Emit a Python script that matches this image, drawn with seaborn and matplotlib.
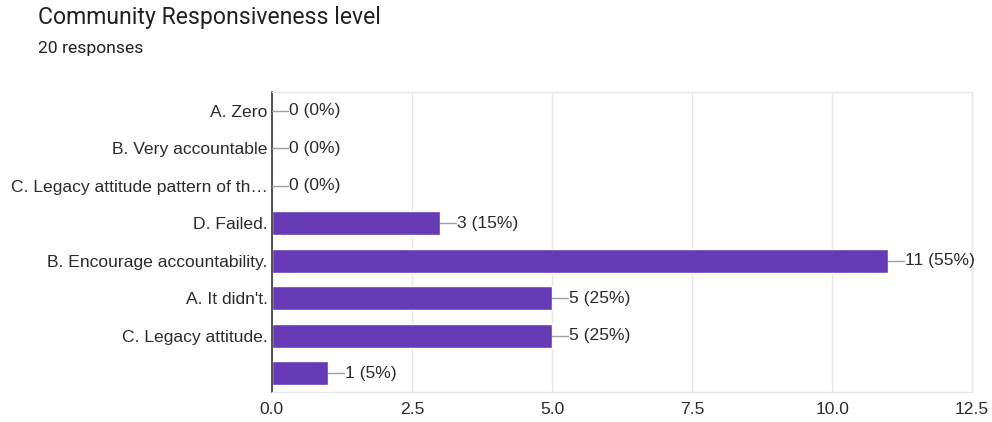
import matplotlib
matplotlib.use("Agg")
import matplotlib.pyplot as plt
import seaborn as sns
import pandas as pd

categories = ["A. Zero", "B. Very accountable", "C. Legacy attitude pattern of th\u2026",
              "D. Failed.", "B. Encourage accountability.", "A. It didn't.",
              "C. Legacy attitude.", " "]
counts = [0, 0, 0, 3, 11, 5, 5, 1]
total = 20
xticks = [0.0, 2.5, 5.0, 7.5, 10.0, 12.5]

df = pd.DataFrame({"cat": categories, "n": counts})

sns.set_theme(style="white")
plt.rcParams["font.family"] = ["Liberation Sans", "DejaVu Sans"]

fig = plt.figure(figsize=(9.92, 4.22), dpi=100)
ax = fig.add_axes([0.274, 0.071, 0.706, 0.711])

sns.barplot(data=df, x="n", y="cat", color="#673ab7", width=0.64,
            saturation=1, ax=ax, orient="h")

ax.set_xlim(0, 12.5)
ax.set_xticks(xticks)
ax.set_xticklabels([f"{t:.1f}" for t in xticks])
ax.set_ylim(len(categories) - 0.5, -0.5)
ax.set_xlabel("")
ax.set_ylabel("")
ax.grid(axis="x", color="#e6e6e6", linewidth=1)
ax.set_axisbelow(True)
for s in ["top", "right", "bottom"]:
    ax.spines[s].set_color("#e6e6e6")
    ax.spines[s].set_linewidth(1)
ax.spines["left"].set_color("#333333")
ax.spines["left"].set_linewidth(1.2)
ax.tick_params(axis="both", length=0, labelsize=12.6, labelcolor="#2b2b2b")
ax.tick_params(axis="y", pad=3)
ax.tick_params(axis="x", pad=7)

for i, v in enumerate(counts):
    ax.plot([v, v + 0.29], [i, i], color="#9e9e9e", linewidth=1, zorder=3)
    ax.text(v + 0.31, i, f"{v} ({v / total * 100:.0f}%)", va="center", ha="left",
            fontsize=12.6, color="#2b2b2b")

fig.text(0.038, 0.958, "Community Responsiveness level", fontsize=16.6, color="#212121",
         va="center", family=["Roboto", "DejaVu Sans"])
fig.text(0.038, 0.886, "20 responses", fontsize=12.6, color="#212121",
         va="center", family=["Roboto", "DejaVu Sans"])

fig.savefig("out.png", dpi=100, facecolor="white")
